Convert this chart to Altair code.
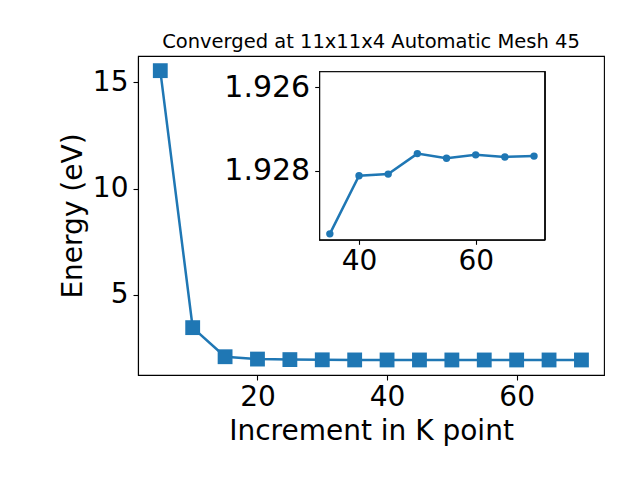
import altair as alt
import pandas as pd

# Main convergence series
k_main = [5, 10, 15, 20, 25, 30, 35, 40, 45, 50, 55, 60, 65, 70]
e_main = [15.55, 3.45, 2.08, 1.97, 1.945, 1.935, 1.9295, 1.9281, 1.9281,
          1.9276, 1.9277, 1.9276, 1.9277, 1.9276]

# Inset (zoom) series
k_inset = [35, 40, 45, 50, 55, 60, 65, 70]
e_inset = [1.92951, 1.92812, 1.92808, 1.92759, 1.92770, 1.92762, 1.92767, 1.92765]

title_text = "Converged at 11x11x4 Automatic Mesh 45"
x_title = "Increment in K point"
y_title = "Energy (eV)"

main_df = pd.DataFrame({"k": k_main, "e": e_main})
inset_df = pd.DataFrame({"k": k_inset, "e": e_inset})

BLUE = "#1f77b4"
FONT = "DejaVu Sans"

W, H = 466, 319

main_x = alt.X("k:Q", scale=alt.Scale(domain=[1.56, 73.48], nice=False, zero=False),
               axis=alt.Axis(values=[20, 40, 60], title=x_title, grid=False,
                             labelFontSize=28, titleFontSize=28, labelPadding=3,
                             titlePadding=6, tickSize=5, tickColor="black",
                             domainColor="black", labelColor="black", titleColor="black",
                             titleFontWeight="normal", labelFont=FONT, titleFont=FONT))
main_y = alt.Y("e:Q", scale=alt.Scale(domain=[1.22, 16.24], nice=False, zero=False),
               axis=alt.Axis(values=[5, 10, 15], title=y_title, grid=False,
                             labelFontSize=28, titleFontSize=28, labelPadding=5,
                             titlePadding=5, tickSize=5, tickColor="black",
                             domainColor="black", labelColor="black", titleColor="black",
                             titleFontWeight="normal", labelFont=FONT, titleFont=FONT))

main_line = alt.Chart(main_df).mark_line(color=BLUE, strokeWidth=2.5).encode(x=main_x, y=main_y)
main_pts = alt.Chart(main_df).mark_point(shape="square", filled=True, color=BLUE,
                                         size=220, opacity=1).encode(x=main_x, y=main_y)
main = alt.layer(main_line, main_pts)

ix_dom = [33.26, 71.83]
iy_dom = [1.92563, 1.92965]
ix_scale = alt.Scale(domain=ix_dom, range=[181.7, 406.7], nice=False, zero=False)
iy_scale = alt.Scale(domain=iy_dom, range=[15.7, 183.7], nice=False, zero=False)

ix_axis = alt.Axis(values=[40, 60], title=None, grid=False, orient="bottom",
                   offset=-135.7, domain=False, labelFontSize=28, labelPadding=3,
                   tickSize=5, tickColor="black", labelColor="black", labelFont=FONT)
iy_axis = alt.Axis(values=[1.926, 1.928], format=".3f", title=None, grid=False,
                   orient="left", offset=-181.7, domain=False, labelFontSize=30,
                   labelPadding=5, tickSize=5, tickColor="black", labelColor="black",
                   labelFont=FONT)

frame = alt.Chart(inset_df).mark_rect(fill="white", stroke="black", strokeWidth=1.1).encode(
    x=alt.datum(ix_dom[0], scale=ix_scale, axis=ix_axis, type="quantitative"),
    x2=alt.datum(ix_dom[1]),
    y=alt.datum(iy_dom[0], scale=iy_scale, axis=iy_axis, type="quantitative"),
    y2=alt.datum(iy_dom[1]),
)
ix = alt.X("k:Q", scale=ix_scale, axis=ix_axis)
iy = alt.Y("e:Q", scale=iy_scale, axis=iy_axis)
inset_line = alt.Chart(inset_df).mark_line(color=BLUE, strokeWidth=2.5).encode(x=ix, y=iy)
inset_pts = alt.Chart(inset_df).mark_circle(color=BLUE, size=55, opacity=1).encode(x=ix, y=iy)
inset = alt.layer(frame, inset_line, inset_pts)

chart = alt.layer(main, inset).resolve_scale(x="independent", y="independent").resolve_axis(
    x="independent", y="independent"
).properties(
    width=W, height=H,
    title=alt.TitleParams(title_text, fontSize=19.5, fontWeight="normal", font=FONT,
                          anchor="middle", frame="group", offset=-11, baseline="alphabetic",
                          color="black"),
    autosize=alt.AutoSizeParams(type="none"),
    padding={"left": 130, "top": 48, "right": 28, "bottom": 96},
).configure_view(stroke="black", strokeWidth=1.1).configure_axis(
    tickWidth=1.1, domainWidth=1.1
)

chart.save("out.html", embed_options={"renderer": "svg", "actions": False})
